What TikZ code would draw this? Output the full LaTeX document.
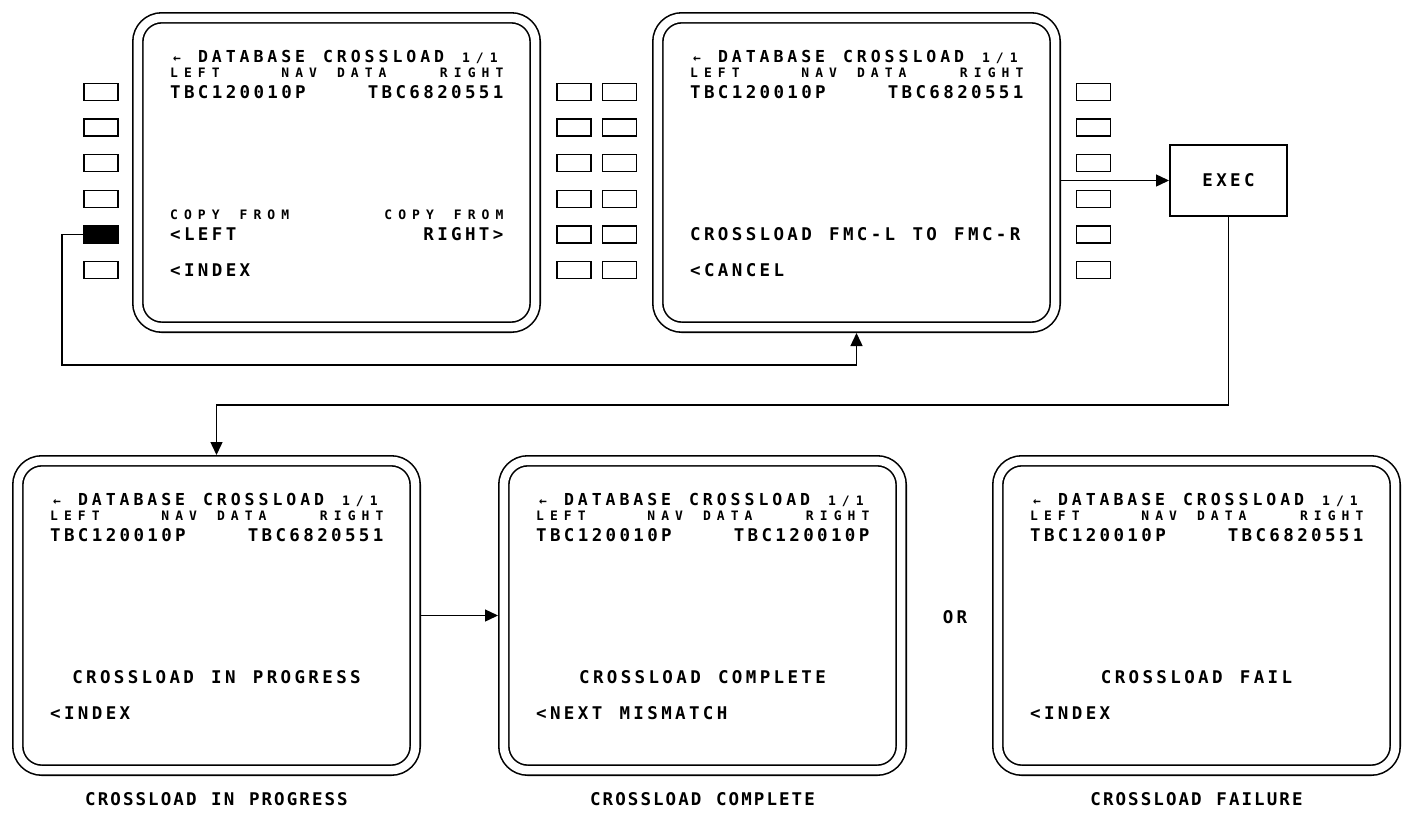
\documentclass[tikz,border=0pt]{standalone}
\usepackage{fontspec}
\setmonofont{DejaVu Sans Mono}
\usetikzlibrary{arrows.meta,calc}
% cdu fonts: one 24 column grid, pitch 13.9
\def\pitch{13.9}
\newcommand\cdubig{\ttfamily\bfseries\fontsize{17.5}{18}\selectfont\addfontfeature{LetterSpace=19.2}\spaceskip=17.26pt\relax}
\newcommand\cdutitle{\ttfamily\bfseries\fontsize{16.5}{18}\selectfont\addfontfeature{LetterSpace=24}\spaceskip=17.87pt\relax}
\newcommand\cdusmall{\ttfamily\bfseries\fontsize{13}{14}\selectfont\addfontfeature{LetterSpace=46.7}\spaceskip=19.97pt\relax}
\newcommand\capfont{\ttfamily\bfseries\fontsize{17.5}{18}\selectfont\addfontfeature{LetterSpace=11.8}\spaceskip=14.66pt\relax}
\tikzset{
  screen/.style={draw,double,double distance=8.4pt,line width=1.6pt,rounded corners=24pt,
    minimum width=397.4pt,minimum height=309.4pt,inner sep=0pt,outer sep=5.8pt},
  key/.style={draw,line width=1.5pt,minimum width=34pt,minimum height=17pt,inner sep=0pt},
  big/.style={font=\cdubig,anchor=base west,inner sep=0pt},
  bigr/.style={big,anchor=base east},
  bigc/.style={big,anchor=base},
  small/.style={font=\cdusmall,anchor=base west,inner sep=0pt},
  smallr/.style={small,anchor=base east},
  caption/.style={font=\capfont,anchor=base,inner sep=0pt},
  conn/.style={line width=1.4pt,-{Triangle[length=13pt,width=12pt]}},
  pics/cdu/.style={code={
    \node[screen] (-frame) at (204.5,160.5) {};
    \node[small,anchor=base] (-arrow) at (38+0.5*\pitch,50) {←};
    \node[big,font=\cdutitle] (-title) at (38+2*\pitch,50) {DATABASE CROSSLOAD};
    \node[small] (-page) at (38+21*\pitch,50) {1/1};
    \node[small] (-left) at (38,65) {LEFT};
    \node[small] (-nav) at (38+8*\pitch,65) {NAV};
    \node[small] (-data) at (38+12*\pitch,65) {DATA};
    \node[smallr] (-right) at (371.6,65) {RIGHT};
    \node[big] (-dl) at (38,86) {TBC120010P};
    \node[bigr] (-dr) at (371.6,86) {#1};
  }}
}
\begin{document}
\begin{tikzpicture}[x=1pt,y=-1pt]
  \useasboundingbox (0,0) rectangle (1405,817);
  % line select keys
  \foreach \i in {1,...,6} {
    \node[key] (lk\i) at (101,92+35.6*\i-35.6) {};
    \node[key] (ma\i) at (574,92+35.6*\i-35.6) {};
    \node[key] (mb\i) at (619.5,92+35.6*\i-35.6) {};
    \node[key] (rk\i) at (1093.5,92+35.6*\i-35.6) {};
  }
  \fill (lk5.south west) rectangle (lk5.north east);
  % top screens
  \begin{scope}[shift={(132,12)}]
    \pic (s1) {cdu=TBC6820551};
    \node[small] (s1-cfl) at (38,207.4) {COPY FROM};
    \node[smallr] (s1-cfr) at (371.6,207.4) {COPY FROM};
    \node[big] (s1-l5) at (38,228.4) {<LEFT};
    \node[bigr] (s1-r5) at (371.6,228.4) {RIGHT>};
    \node[big] (s1-l6) at (38,264) {<INDEX};
  \end{scope}
  \begin{scope}[shift={(652,12)}]
    \pic (s2) {cdu=TBC6820551};
    \node[big] (s2-l5) at (38,228.4) {CROSSLOAD FMC-L TO FMC-R};
    \node[big] (s2-l6) at (38,264) {<CANCEL};
  \end{scope}
  \node[draw,line width=2pt,minimum width=117pt,minimum height=71pt,font=\cdubig] (exec) at (1228.5,180.5) {EXEC};
  % bottom screens
  \begin{scope}[shift={(12,455)}]
    \pic (s3) {cdu=TBC6820551};
    \node[bigc] (s3-l5) at (204.5,228.4) {CROSSLOAD IN PROGRESS};
    \node[big] (s3-l6) at (38,264) {<INDEX};
    \node[caption] (s3-cap) at (204.5,350) {CROSSLOAD IN PROGRESS};
  \end{scope}
  \begin{scope}[shift={(498,455)}]
    \pic (s4) {cdu=TBC120010P};
    \node[bigc] (s4-l5) at (204.5,228.4) {CROSSLOAD COMPLETE};
    \node[big] (s4-l6) at (38,264) {<NEXT MISMATCH};
    \node[caption] (s4-cap) at (204.5,350) {CROSSLOAD COMPLETE};
  \end{scope}
  \begin{scope}[shift={(992,455)}]
    \pic (s5) {cdu=TBC6820551};
    \node[bigc] (s5-l5) at (204.5,228.4) {CROSSLOAD FAIL};
    \node[big] (s5-l6) at (38,264) {<INDEX};
    \node[caption] (s5-cap) at (204.5,350) {CROSSLOAD FAILURE};
  \end{scope}
  \node[font=\cdubig,anchor=base] (or) at (955,623) {OR};
  % connectors
  \coordinate (c1) at (62,365);
  \coordinate (c2) at (216,405);
  \draw[conn] (lk5.west) -| (c1) -| (s2-frame.south);
  \draw[conn] (s2-frame.east |- exec.west) -- (exec.west);
  \draw[conn] (exec.south) |- (c2) -| (s3-frame.north);
  \draw[conn] (s3-frame.east) -- (s4-frame.west);
\end{tikzpicture}
\end{document}
